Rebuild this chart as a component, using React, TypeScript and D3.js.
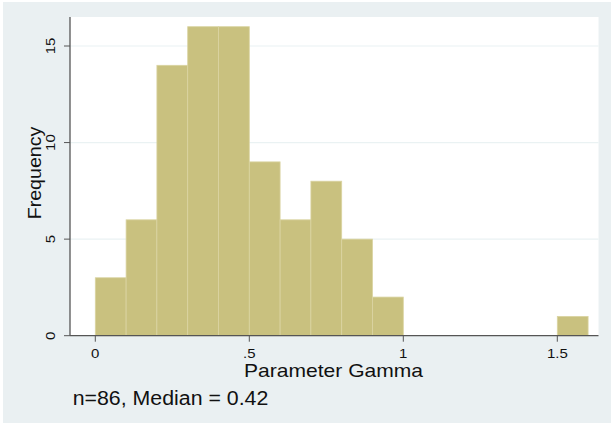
import React from "react";
import * as d3 from "d3";

const binStarts = [0, 0.1, 0.2, 0.3, 0.4, 0.5, 0.6, 0.7, 0.8, 0.9, 1.5];
const binWidth = 0.1;
const counts = [3, 6, 14, 16, 16, 9, 6, 8, 5, 2, 1];
const xTicks = [0, 0.5, 1, 1.5];
const xTickLabels = ["0", ".5", "1", "1.5"];
const yTicks = [0, 5, 10, 15];
const note = "n=86, Median = 0.42";

const W = 611, H = 423;
const plot = { left: 70, right: 598.5, top: 17, bottom: 335.7 };

export default function App() {
  const x = d3.scaleLinear().domain([0, 1.5]).range([95.3, 557.3]);
  const y = d3.scaleLinear().domain([0, 15]).range([335.7, 46]);
  const font = "Arial, 'Liberation Sans', Helvetica, sans-serif";
  return (
    <svg width={W} height={H} style={{ position: "absolute", left: 0, top: 0 }} fontFamily={font}>
      <rect x={0} y={0} width={W} height={H} fill="#ffffff" />
      <rect x={3} y={2} width={W - 3} height={H - 2} fill="#EAF0F2" />
      <rect x={plot.left} y={plot.top} width={plot.right - plot.left} height={plot.bottom - plot.top} fill="#ffffff" />
      {yTicks.filter(t => t > 0).map(t => (
        <line key={"g" + t} x1={plot.left} x2={plot.right} y1={y(t)} y2={y(t)} stroke="#EAF2F3" strokeWidth={1.2} />
      ))}
      {binStarts.map((s, i) => (
        <rect key={i} x={x(s)} y={y(counts[i])} width={x(s + binWidth) - x(s)} height={y(0) - y(counts[i])}
          fill="#C9C17F" stroke="#DAD4A2" strokeWidth={0.8} />
      ))}
      <line x1={plot.left} x2={plot.left} y1={plot.top} y2={plot.bottom} stroke="#555" strokeWidth={1.3} />
      <line x1={plot.left} x2={plot.right} y1={plot.bottom} y2={plot.bottom} stroke="#555" strokeWidth={1.3} />
      {yTicks.map(t => (
        <g key={"y" + t}>
          <line x1={plot.left - 6} x2={plot.left} y1={y(t)} y2={y(t)} stroke="#555" strokeWidth={1} />
          <text transform={`translate(55,${y(t)}) rotate(-90) scale(1.2,1)`} textAnchor="middle" fontSize={12.5} fill="#111">{t}</text>
        </g>
      ))}
      {xTicks.map((t, i) => (
        <g key={"x" + t}>
          <line x1={x(t)} x2={x(t)} y1={plot.bottom} y2={plot.bottom + 6} stroke="#555" strokeWidth={1} />
          <text transform={`translate(${x(t)},358) scale(1.2,1)`} textAnchor="middle" fontSize={12.5} fill="#111">{xTickLabels[i]}</text>
        </g>
      ))}
      <text transform={`translate(41,173) rotate(-90)`} x={-46.3} fontSize={17.7} fill="#111"
        textLength={92.6} lengthAdjust="spacingAndGlyphs">Frequency</text>
      <text x={244} y={376.7} fontSize={17.7} fill="#111" textLength={179} lengthAdjust="spacingAndGlyphs">Parameter Gamma</text>
      <text x={72.7} y={405} fontSize={19.5} fill="#111" textLength={195.6} lengthAdjust="spacingAndGlyphs">{note}</text>
    </svg>
  );
}
